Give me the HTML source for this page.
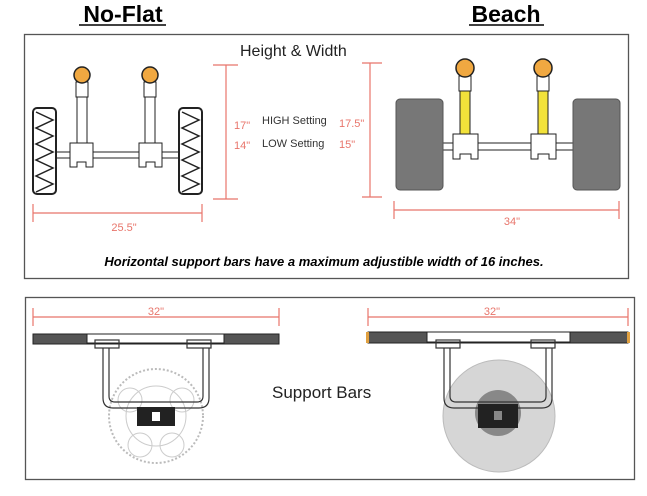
<!DOCTYPE html>
<html><head><meta charset="utf-8"><style>html,body{margin:0;padding:0;background:#fff}svg{display:block}text{font-family:"Liberation Sans",sans-serif}</style></head><body>
<svg width="647" height="496" viewBox="0 0 647 496" xmlns="http://www.w3.org/2000/svg">
<rect width="647" height="496" fill="#fff"/>
<text x="123" y="22" font-size="23" font-weight="bold" text-anchor="middle">No-Flat</text>
<line x1="79" y1="25" x2="166" y2="25" stroke="#000" stroke-width="1.5"/>
<text x="506" y="22" font-size="23" font-weight="bold" text-anchor="middle">Beach</text>
<line x1="469" y1="25" x2="544" y2="25" stroke="#000" stroke-width="1.5"/>
<rect x="24.5" y="34.5" width="604" height="244" fill="none" stroke="#555" stroke-width="1.3"/>
<text x="240" y="56" font-size="16" fill="#222">Height &amp; Width</text>
<!-- left diagram -->
<g stroke="#222" fill="none">
<line x1="45" y1="152" x2="190" y2="152"/><line x1="45" y1="158" x2="190" y2="158"/>
<rect x="33" y="108" width="23" height="86" rx="4" fill="#fff" stroke-width="2"/>
<rect x="179" y="108" width="23" height="86" rx="4" fill="#fff" stroke-width="2"/>
<path d="M36 112 l17 8 l-17 8 l17 8 l-17 8 l17 8 l-17 8 l17 8 l-17 8 l17 8 l-17 8" stroke-width="1.5"/>
<path d="M182 112 l17 8 l-17 8 l17 8 l-17 8 l17 8 l-17 8 l17 8 l-17 8 l17 8 l-17 8" stroke-width="1.5"/>
<rect x="77" y="82" width="10" height="65" fill="#fff"/><rect x="145" y="82" width="10" height="65" fill="#fff"/>
<rect x="76" y="82" width="12" height="15" fill="#fff"/><rect x="144" y="82" width="12" height="15" fill="#fff"/>
<path d="M70 143 h23 v24 h-7 v-5 h-9 v5 h-7z" fill="#fff"/><path d="M139 143 h23 v24 h-7 v-5 h-9 v5 h-7z" fill="#fff"/>
<circle cx="82" cy="75" r="8" fill="#f0a841" stroke-width="1.5"/><circle cx="150" cy="75" r="8" fill="#f0a841" stroke-width="1.5"/>
</g>
<g stroke="#e8756b" stroke-width="1.2">
<line x1="33" y1="213" x2="202" y2="213"/><line x1="33" y1="204" x2="33" y2="222"/><line x1="202" y1="204" x2="202" y2="222"/>
<line x1="226" y1="65" x2="226" y2="199"/><line x1="213" y1="65" x2="238" y2="65"/><line x1="213" y1="199" x2="238" y2="199"/>
<line x1="370" y1="63" x2="370" y2="197"/><line x1="362" y1="63" x2="382" y2="63"/><line x1="362" y1="197" x2="382" y2="197"/>
<line x1="394" y1="210" x2="619" y2="210"/><line x1="394" y1="201" x2="394" y2="219"/><line x1="619" y1="201" x2="619" y2="219"/>
</g>
<g font-size="11" fill="#e8756b">
<text x="124" y="231" text-anchor="middle">25.5"</text>
<text x="234" y="129">17"</text><text x="234" y="149">14"</text>
<text x="339" y="127">17.5"</text><text x="339" y="148">15"</text>
<text x="512" y="225" text-anchor="middle">34"</text>
</g>
<text x="262" y="124" font-size="11" fill="#333">HIGH Setting</text>
<text x="262" y="147" font-size="11" fill="#333">LOW Setting</text>
<!-- right diagram -->
<g stroke="#222" fill="none">
<line x1="443" y1="143" x2="573" y2="143"/><line x1="443" y1="150" x2="573" y2="150"/>
<rect x="396" y="99" width="47" height="91" rx="4" fill="#777" stroke="#555"/>
<rect x="573" y="99" width="47" height="91" rx="4" fill="#777" stroke="#555"/>
<rect x="460" y="82" width="10" height="56" fill="#f2e23a"/><rect x="538" y="82" width="10" height="56" fill="#f2e23a"/>
<rect x="459" y="76" width="12" height="15" fill="#fff"/><rect x="537" y="76" width="12" height="15" fill="#fff"/>
<path d="M453 134 h25 v25 h-7 v-5 h-11 v5 h-7z" fill="#fff"/><path d="M531 134 h25 v25 h-7 v-5 h-11 v5 h-7z" fill="#fff"/>
<circle cx="465" cy="68" r="9" fill="#f0a841" stroke-width="1.5"/><circle cx="543" cy="68" r="9" fill="#f0a841" stroke-width="1.5"/>
</g>
<text x="324" y="266" font-size="13" font-weight="bold" font-style="italic" text-anchor="middle">Horizontal support bars have a maximum adjustible width of 16 inches.</text>
<!-- bottom -->
<rect x="25.5" y="297.5" width="609" height="182" fill="none" stroke="#555" stroke-width="1.3"/>
<g stroke="#e8756b" stroke-width="1.2">
<line x1="33" y1="317" x2="279" y2="317"/><line x1="33" y1="308" x2="33" y2="326"/><line x1="279" y1="308" x2="279" y2="326"/>
<line x1="368" y1="317" x2="628" y2="317"/><line x1="368" y1="308" x2="368" y2="326"/><line x1="628" y1="308" x2="628" y2="326"/>
</g>
<text x="156" y="315" font-size="11" fill="#e8756b" text-anchor="middle">32"</text>
<text x="492" y="315" font-size="11" fill="#e8756b" text-anchor="middle">32"</text>
<text x="272" y="398" font-size="17" fill="#222">Support Bars</text>
<!-- left bottom -->
<circle cx="156" cy="416" r="47" fill="#fff" stroke="#bbb" stroke-width="2" stroke-dasharray="2 2"/>
<g stroke="#ccc" fill="none"><circle cx="156" cy="416" r="30"/><circle cx="130" cy="400" r="12"/><circle cx="182" cy="400" r="12"/><circle cx="140" cy="445" r="12"/><circle cx="172" cy="445" r="12"/></g>
<rect x="33" y="334" width="246" height="10" fill="#555" stroke="#222"/>
<rect x="87" y="334" width="137" height="9" fill="#fff" stroke="#222"/>
<g stroke="#333" fill="none" stroke-width="1.2">
<rect x="95" y="340" width="24" height="8"/><rect x="187" y="340" width="24" height="8"/>
<path d="M103 348 v50 q0 10 10 10 h86 q10 0 10 -10 v-50 M109 348 v48 q0 6 6 6 h82 q6 0 6 -6 v-48"/>
</g>
<rect x="137" y="407" width="38" height="19" fill="#222"/><rect x="152" y="412" width="8" height="9" fill="#fff"/>
<!-- right bottom -->
<circle cx="499" cy="416" r="56" fill="#d6d6d6" stroke="#bbb"/>
<circle cx="498" cy="413" r="23" fill="#888"/>
<rect x="368" y="332" width="260" height="11" fill="#555" stroke="#222"/>
<rect x="366" y="332" width="3" height="11" fill="#e0a040"/><rect x="627" y="332" width="3" height="11" fill="#e0a040"/>
<rect x="427" y="332" width="143" height="10" fill="#fff" stroke="#222"/>
<g stroke="#333" fill="none" stroke-width="1.2">
<rect x="436" y="340" width="24" height="8"/><rect x="531" y="340" width="24" height="8"/>
<path d="M444 348 v50 q0 10 10 10 h88 q10 0 10 -10 v-50 M450 348 v48 q0 6 6 6 h84 q6 0 6 -6 v-48"/>
</g>
<rect x="478" y="404" width="40" height="24" fill="#222"/><rect x="494" y="411" width="8" height="9" fill="#888"/>
</svg>
</body></html>
